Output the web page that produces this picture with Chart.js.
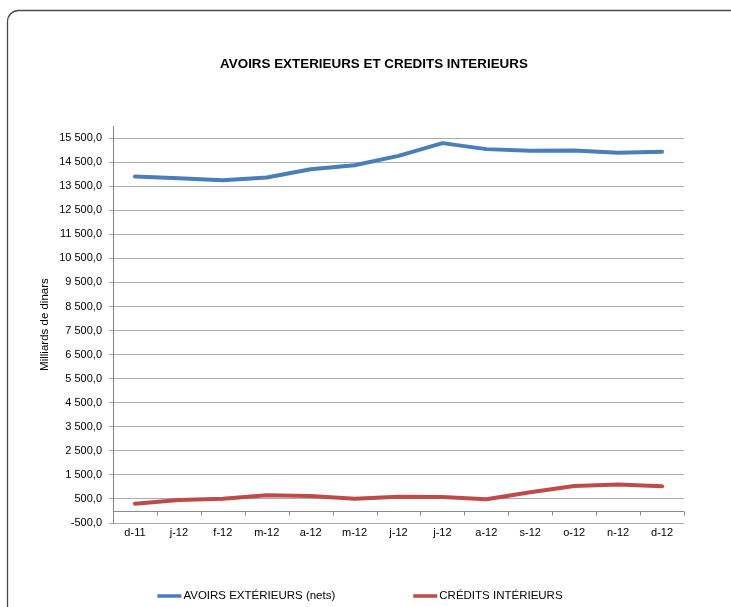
<!DOCTYPE html>
<html>
<head>
<meta charset="utf-8">
<script src="https://cdn.jsdelivr.net/npm/chart.js@4/dist/chart.umd.min.js"></script>
<style>
  html, body { margin: 0; padding: 0; background: #ffffff; }
  #wrap { width: 731px; height: 607px; position: relative; }
</style>
</head>
<body>
<div id="wrap"><canvas id="c" width="731" height="607"></canvas></div>
<script>
const categories = ['d-11','j-12','f-12','m-12','a-12','m-12','j-12','j-12','a-12','s-12','o-12','n-12','d-12'];
const avoirsExterieurs = [13904, 13833, 13750, 13860, 14208, 14375, 14762, 15292, 15042, 14971, 14983, 14887, 14929];
const creditsInterieurs = [304, 458, 513, 654, 625, 513, 596, 583, 487, 775, 1042, 1096, 1025];
const yTicks = [-500, 500, 1500, 2500, 3500, 4500, 5500, 6500, 7500, 8500, 9500, 10500, 11500, 12500, 13500, 14500, 15500];
const seriesNames = ['AVOIRS EXTÉRIEURS (nets)', 'CRÉDITS INTÉRIEURS'];
const titleText = 'AVOIRS EXTERIEURS ET CREDITS INTERIEURS';
const yTitle = 'Milliards de dinars';

const FONT = "'Liberation Sans', Arial, sans-serif";

function fmt(v) {
  const neg = v < 0;
  const s = String(Math.abs(Math.round(v)));
  const grouped = s.replace(/\B(?=(\d{3})+(?!\d))/g, ' ');
  return (neg ? '-' : '') + grouped + ',0';
}

const framePlugin = {
  id: 'frame',
  beforeDraw(chart) {
    const ctx = chart.ctx;
    ctx.save();
    ctx.fillStyle = '#ffffff';
    ctx.fillRect(0, 0, chart.width, chart.height);
    ctx.strokeStyle = '#4a4a4a';
    ctx.lineWidth = 1.3;
    ctx.beginPath();
    ctx.roundRect(7.5, 10.5, 745, 640, 11);
    ctx.stroke();
    ctx.restore();
  }
};

const zeroAxisPlugin = {
  id: 'zeroAxis',
  beforeDatasetsDraw(chart) {
    const x = chart.scales.x, y = chart.scales.y;
    const ctx = chart.ctx;
    const y0 = Math.round(y.getPixelForValue(0)) + 0.5;
    const step = x.getPixelForValue(1) - x.getPixelForValue(0);
    ctx.save();
    ctx.strokeStyle = '#8c8c8c';
    ctx.lineWidth = 1;
    ctx.beginPath();
    ctx.moveTo(chart.chartArea.left, y0);
    ctx.lineTo(chart.chartArea.right, y0);
    for (let i = 0; i <= categories.length; i++) {
      const px = Math.round(x.getPixelForValue(i) - step / 2) + 0.5;
      ctx.moveTo(px, y0);
      ctx.lineTo(px, y0 + 4);
    }
    ctx.stroke();
    ctx.restore();
  }
};

const legendPlugin = {
  id: 'lineLegend',
  afterDraw(chart) {
    const ctx = chart.ctx;
    ctx.save();
    ctx.font = "11.5px " + FONT;
    const lineW = 24, gap = 2, spacing = 78;
    const items = chart.data.datasets.map(ds => ({ text: ds.label, color: ds.borderColor, w: ctx.measureText(ds.label).width }));
    let total = 0;
    items.forEach((it, i) => { total += lineW + gap + it.w + (i < items.length - 1 ? spacing : 0); });
    let xPos = 360 - total / 2;
    const yPos = 596;
    items.forEach(it => {
      ctx.strokeStyle = it.color;
      ctx.lineWidth = 3.5;
      ctx.beginPath();
      ctx.moveTo(xPos, yPos);
      ctx.lineTo(xPos + lineW, yPos);
      ctx.stroke();
      ctx.fillStyle = '#000000';
      ctx.textBaseline = 'middle';
      ctx.textAlign = 'left';
      ctx.fillText(it.text, xPos + lineW + gap, yPos);
      xPos += lineW + gap + it.w + spacing;
    });
    ctx.restore();
  }
};

new Chart(document.getElementById('c'), {
  type: 'line',
  data: {
    labels: categories,
    datasets: [
      { label: seriesNames[0], data: avoirsExterieurs, borderColor: '#4a7ebb', backgroundColor: '#4a7ebb', borderWidth: 4, pointRadius: 0, tension: 0, borderCapStyle: 'round', borderJoinStyle: 'round' },
      { label: seriesNames[1], data: creditsInterieurs, borderColor: '#be4b48', backgroundColor: '#be4b48', borderWidth: 4, pointRadius: 0, tension: 0, borderCapStyle: 'round', borderJoinStyle: 'round' }
    ]
  },
  options: {
    responsive: false,
    animation: false,
    devicePixelRatio: 1,
    layout: { padding: { left: 17, right: 0, top: 0, bottom: 64 } },
    plugins: {
      legend: { display: false },
      tooltip: { enabled: false },
      title: {
        display: true,
        text: titleText,
        color: '#000000',
        font: { family: FONT, size: 13.4, weight: 'bold' },
        padding: { top: 56, bottom: 54 }
      }
    },
    scales: {
      x: {
        offset: true,
        grid: { display: false, drawTicks: false, offset: true },
        border: { display: false },
        ticks: { color: '#000000', font: { family: FONT, size: 11 }, padding: 3, maxRotation: 0, autoSkip: false },
        afterFit(scale) { scale.height = 20; }
      },
      y: {
        min: -500,
        max: 16000,
        afterBuildTicks(scale) { scale.ticks = yTicks.map(v => ({ value: v })); },
        grid: { color: '#ababab', lineWidth: 1, drawTicks: true, tickLength: 4 },
        border: { display: true, color: '#868686', width: 1 },
        ticks: { color: '#000000', font: { family: FONT, size: 11 }, padding: 7, autoSkip: false, callback: (v) => fmt(v) },
        title: { display: true, text: yTitle, color: '#000000', font: { family: FONT, size: 11.5 }, padding: { top: 21, bottom: 0 } },
        afterFit(scale) { scale.width = 96; }
      },
      yRight: {
        position: 'right',
        min: -500,
        max: 16000,
        grid: { display: false, drawTicks: false },
        border: { display: false },
        ticks: { display: false },
        afterFit(scale) { scale.width = 47; }
      }
    }
  },
  plugins: [framePlugin, zeroAxisPlugin, legendPlugin]
});
</script>
</body>
</html>
